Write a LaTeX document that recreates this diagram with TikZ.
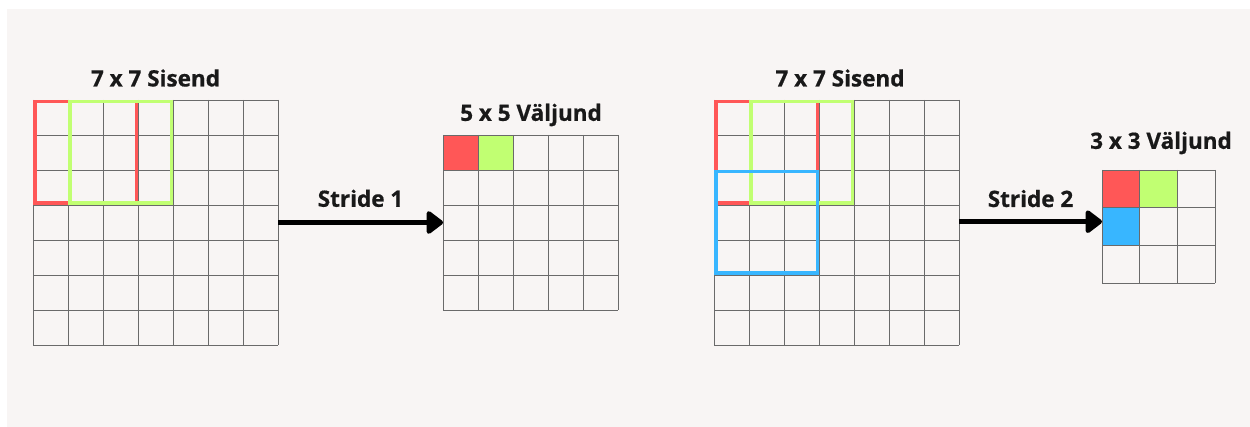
\documentclass[tikz,border=0pt]{standalone}
\usepackage{fontspec}
\setmainfont{Open Sans}[BoldFeatures={FakeBold=0.6}]
\usetikzlibrary{arrows.meta}
\definecolor{bgc}{HTML}{F8F5F4}
\definecolor{cred}{HTML}{FF5757}
\definecolor{cgreen}{HTML}{C1FF72}
\definecolor{cblue}{HTML}{38B6FF}
\definecolor{gline}{HTML}{6A6A6A}
\tikzset{
  gridbox/.style={draw=none,inner sep=0pt,outer sep=0pt,minimum width=#1,minimum height=#1},
  gl/.style={draw=gline,line width=0.9pt},
  title/.style={font=\bfseries\fontsize{22.5}{26}\selectfont,inner sep=0pt,text=black!90},
  win/.style={line width=3.5pt},
  bigarrow/.style={line width=5pt,-{Triangle[length=18pt,width=26pt,round]}},
}
\begin{document}
\begin{tikzpicture}[x=1pt,y=-1pt]
\useasboundingbox (0,0) rectangle (1250,427);
\fill[white] (0,0) rectangle (1250,427);
\fill[bgc] (7,9) rectangle (1250,427);

% grid 1 (7x7)
\node[gridbox=245pt] (g1) at (155.5,222.5) {};
\foreach \i in {0,...,7}{
  \draw[gl] (33+35*\i,100) -- (33+35*\i,345);
  \draw[gl] (33,100+35*\i) -- (278,100+35*\i);
}
\draw[win,cred] (34.75,101.75) rectangle (136.25,203.25);
\draw[win,cgreen] (69.75,101.75) rectangle (171.25,203.25);
\node[title] (t1) at (155.5,78) {7 x 7 Sisend};

% grid 2 (5x5)
\node[gridbox=175pt] (g2) at (530.5,222.5) {};
\fill[cred] (443,135) rectangle (478,170);
\fill[cgreen] (478,135) rectangle (513,170);
\foreach \i in {0,...,5}{
  \draw[gl] (443+35*\i,135) -- (443+35*\i,310);
  \draw[gl] (443,135+35*\i) -- (618,135+35*\i);
}
\node[title] (t2) at (531,115) {5 x 5 Väljund};

% arrow 1
\draw[bigarrow] (g1.east) -- (g2.west) node[midway,above=13pt,title] (s1) {Stride 1};

% grid 3 (7x7)
\node[gridbox=245pt] (g3) at (836.5,222.5) {};
\foreach \i in {0,...,7}{
  \draw[gl] (714+35*\i,100) -- (714+35*\i,345);
  \draw[gl] (714,100+35*\i) -- (959,100+35*\i);
}
\draw[win,cred] (715.75,101.75) rectangle (817.25,203.25);
\draw[win,cgreen] (750.75,101.75) rectangle (852.25,203.25);
\draw[win,cblue] (715.75,171.75) rectangle (817.25,273.25);
\node[title] (t3) at (840,78) {7 x 7 Sisend};

% grid 4 (3x3)
\node[gridbox=113pt] (g4) at (1158.5,226.5) {};
\fill[cred] (1102,170) rectangle (1139.67,207.67);
\fill[cgreen] (1139.67,170) rectangle (1177.33,207.67);
\fill[cblue] (1102,207.67) rectangle (1139.67,245.33);
\foreach \i in {0,...,3}{
  \draw[gl] (1102+37.67*\i,170) -- (1102+37.67*\i,283);
  \draw[gl] (1102,170+37.67*\i) -- (1215,170+37.67*\i);
}
\node[title] (t4) at (1161,143) {3 x 3 Väljund};

% arrow 2
\coordinate (a2) at (g3.east |- 0,221.7);
\draw[bigarrow] (a2) -- (a2 -| g4.west) node[midway,above=12pt,title] (s2) {Stride 2};
\end{tikzpicture}
\end{document}
